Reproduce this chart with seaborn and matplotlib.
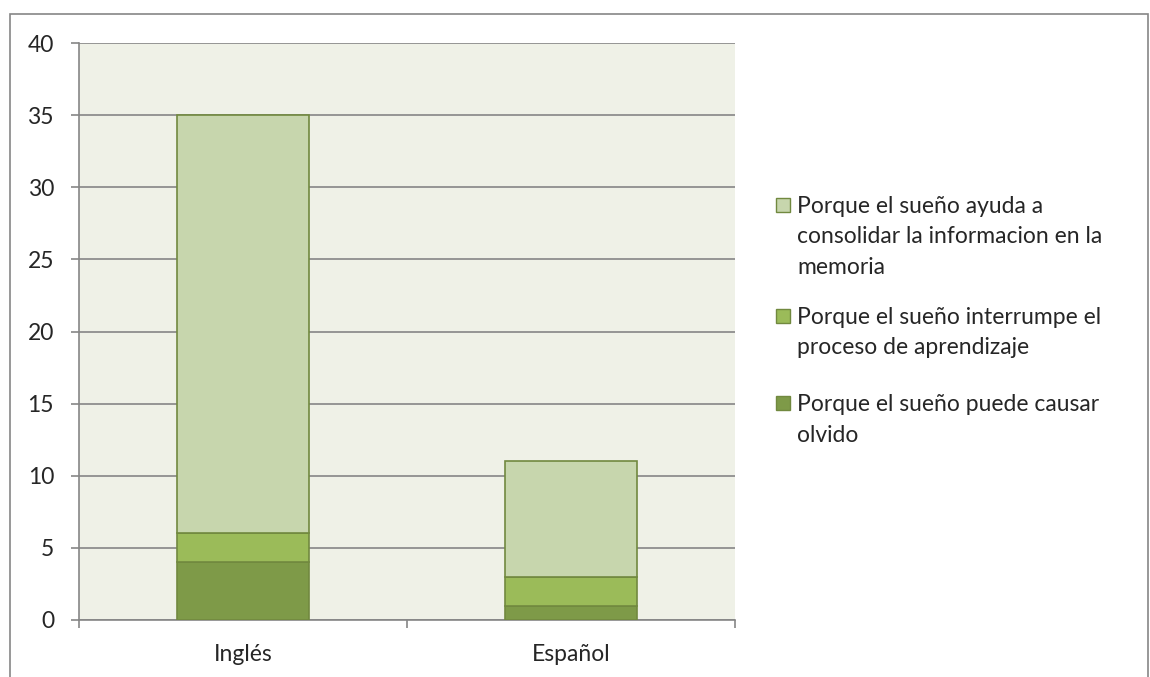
import numpy as np
import pandas as pd
import matplotlib
matplotlib.use("Agg")
import matplotlib.pyplot as plt
from matplotlib.patches import Rectangle
import seaborn as sns

# Data
categories = ["Inglés", "Español"]
olvido = [4, 1]
interrumpe = [2, 2]
consolidar = [29, 8]

series_labels = [
    "Porque el sueño puede causar\nolvido",
    "Porque el sueño interrumpe el\nproceso de aprendizaje",
    "Porque el sueño ayuda a\nconsolidar la informacion en la\nmemoria",
]
series_colors = ["#7E9A48", "#9BBB59", "#C7D6AD"]
EDGE = "#71893F"
GRID = "#868686"
FS = 16.5

W, H = 1150, 677

sns.set_style("white")
plt.rcParams["font.family"] = ["Lato", "DejaVu Sans"]

fig = plt.figure(figsize=(W / 100, H / 100), dpi=100)
ax = fig.add_axes([79 / W, 1 - 620 / H, 656 / W, 577 / H])
ax.set_facecolor("#EFF1E7")

# stacked bars, bottom layer first
layers = [olvido, interrumpe, consolidar]
bottom = np.zeros(len(categories))
for vals, col in zip(layers, series_colors):
    df = pd.DataFrame({"cat": categories, "val": vals})
    sns.barplot(data=df, x="cat", y="val", ax=ax, color=col, width=0.4,
                bottom=bottom, edgecolor=EDGE, linewidth=1.2, saturation=1, zorder=3)
    bottom = bottom + np.array(vals)

ax.set_xlim(-0.5, 1.5)
ax.set_ylim(0, 40)
ax.set_yticks(np.arange(0, 41, 5))
ax.yaxis.grid(True, color=GRID, linewidth=1.2, zorder=0)
ax.set_axisbelow(True)
ax.set_xlabel("")
ax.set_ylabel("")

for s in ["top", "right"]:
    ax.spines[s].set_visible(False)
for s in ["left", "bottom"]:
    ax.spines[s].set_color(GRID)
    ax.spines[s].set_linewidth(1.2)

# category ticks sit on the boundaries, labels centred
ax.set_xticks([-0.5, 0.5, 1.5], minor=False)
ax.set_xticklabels([])
ax.set_xticks([0, 1], minor=True)
ax.set_xticklabels(categories, minor=True, fontsize=FS)
ax.tick_params(axis="x", which="major", length=6, color=GRID, width=1.2, direction="out")
ax.tick_params(axis="x", which="minor", length=0, pad=17)
ax.tick_params(axis="y", length=6, color=GRID, width=1.2, direction="out", labelsize=FS, pad=12)
ax.tick_params(bottom=True, left=True, which="both")
ax.xaxis.set_tick_params(which="minor", bottom=False)

# legend drawn by hand so each swatch sits by the first line of its label
legend_top = [205, 316, 403]  # pixel y of first-line centre, top entry first
line_pitch = 30.5
for lab, col, y0 in zip(series_labels[::-1], series_colors[::-1], legend_top):
    fig.patches.append(Rectangle((776 / W, 1 - (y0 + 7) / H), 14 / W, 14 / H,
                                 transform=fig.transFigure, facecolor=col,
                                 edgecolor=EDGE, linewidth=1))
    for i, line in enumerate(lab.split("\n")):
        fig.text(797 / W, 1 - (y0 + 8 + i * line_pitch) / H, line, fontsize=FS,
                 va="baseline", ha="left")

# outer border of the chart area
fig.patches.append(Rectangle((10 / W, -0.01), 1138 / W, 1 - 14 / H + 0.01, transform=fig.transFigure,
                             fill=False, edgecolor="#868686", linewidth=1.2))

fig.savefig("out.png", dpi=100)
